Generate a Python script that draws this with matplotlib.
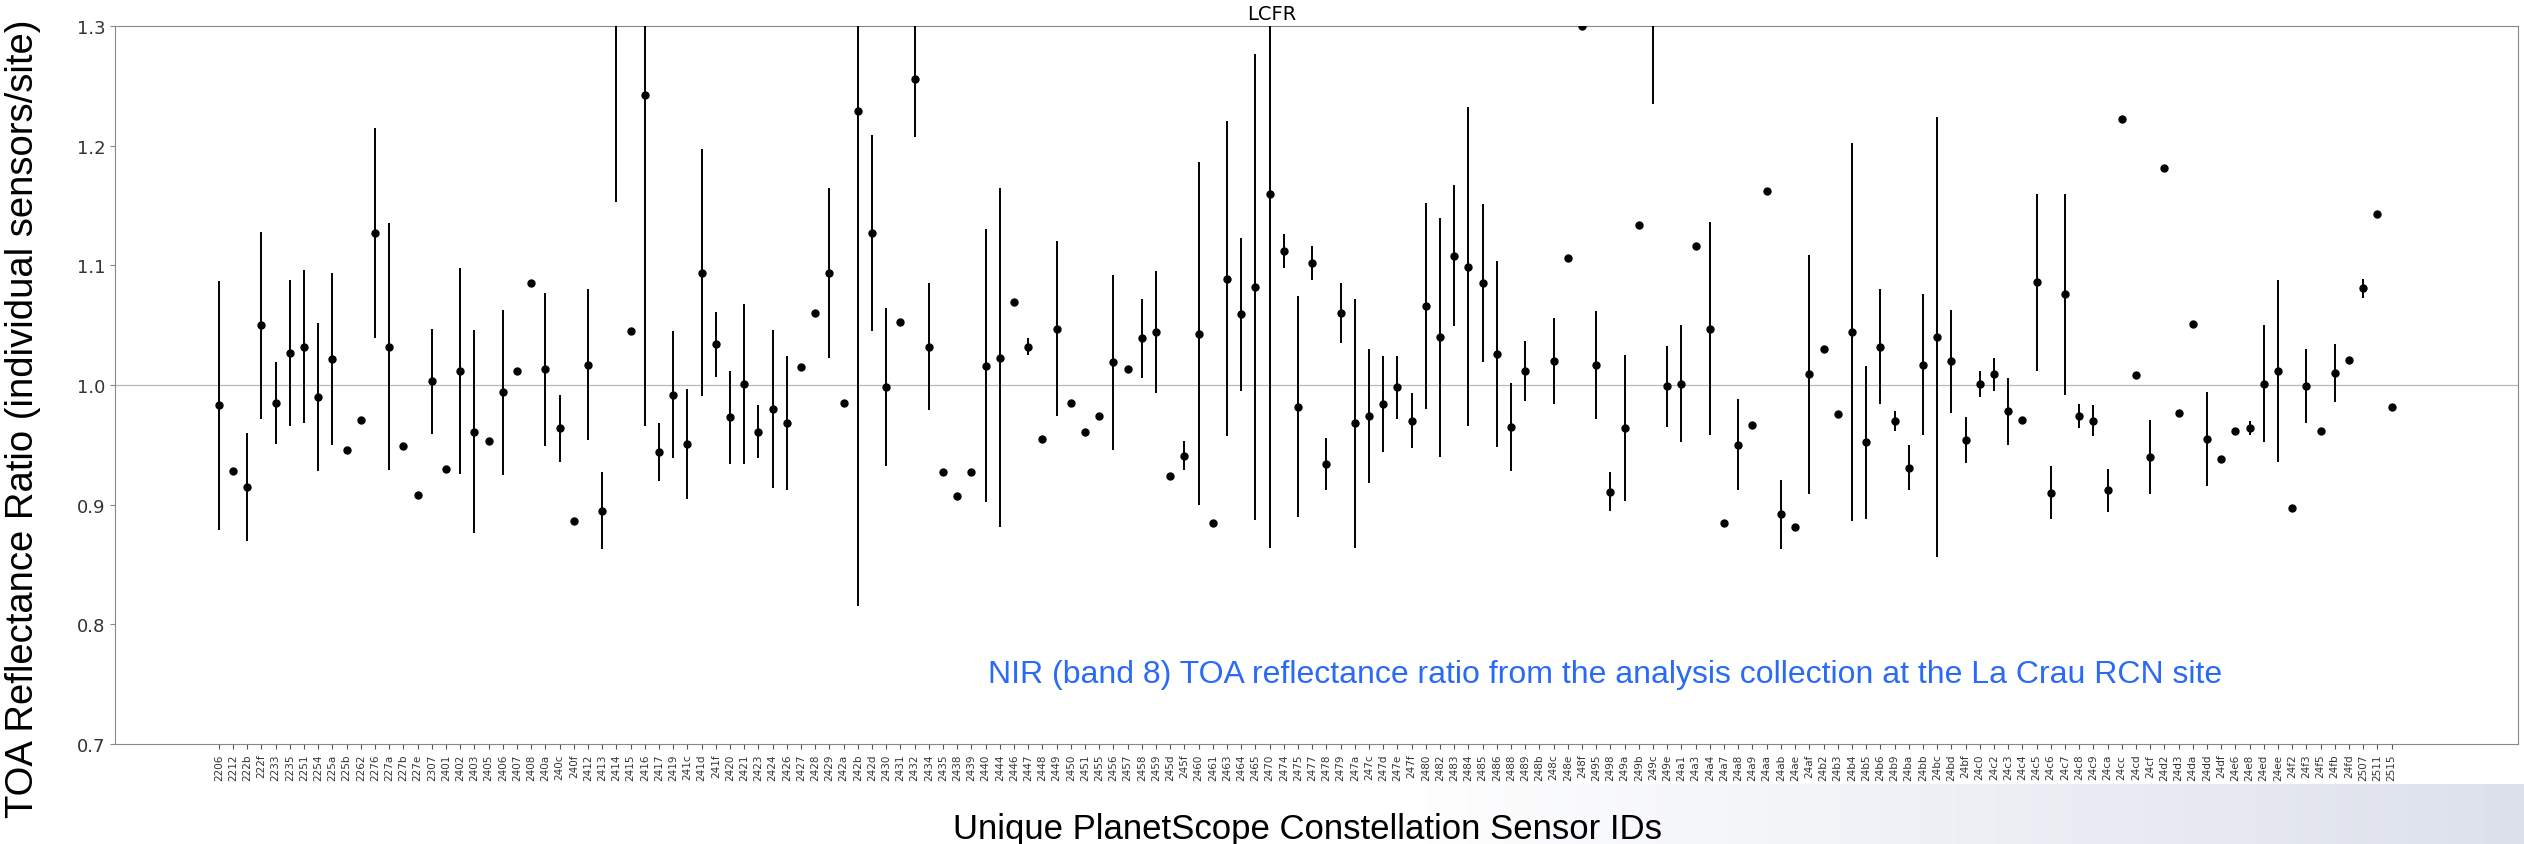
import matplotlib.pyplot as plt
import matplotlib.colors as mcolors
import numpy as np

# sensor IDs along x
sensor_ids = [
    "2206", "2212", "222b", "222f", "2233", "2235", "2251", "2254", "225a", "225b",
    "2262", "2276", "227a", "227b", "227e", "2307", "2401", "2402", "2403", "2405",
    "2406", "2407", "2408", "240a", "240c", "240f", "2412", "2413", "2414", "2415",
    "2416", "2417", "2419", "241c", "241d", "241f", "2420", "2421", "2423", "2424",
    "2426", "2427", "2428", "2429", "242a", "242b", "242d", "2430", "2431", "2432",
    "2434", "2435", "2438", "2439", "2440", "2444", "2446", "2447", "2448", "2449",
    "2450", "2451", "2455", "2456", "2457", "2458", "2459", "245d", "245f", "2460",
    "2461", "2463", "2464", "2465", "2470", "2474", "2475", "2477", "2478", "2479",
    "247a", "247c", "247d", "247e", "247f", "2480", "2482", "2483", "2484", "2485",
    "2486", "2488", "2489", "248b", "248c", "248e", "248f", "2495", "2498", "249a",
    "249b", "249c", "249e", "24a1", "24a3", "24a4", "24a7", "24a8", "24a9", "24aa",
    "24ab", "24ae", "24af", "24b2", "24b3", "24b4", "24b5", "24b6", "24b9", "24ba",
    "24bb", "24bc", "24bd", "24bf", "24c0", "24c2", "24c3", "24c4", "24c5", "24c6",
    "24c7", "24c8", "24c9", "24ca", "24cc", "24cd", "24cf", "24d2", "24d3", "24da",
    "24dd", "24df", "24e6", "24e8", "24ed", "24ee", "24f2", "24f3", "24f5", "24fb",
    "24fd", "2507", "2511", "2515",
]

nan = float("nan")

# mean TOA reflectance ratio per sensor (nan = no value)
ratio = [
    0.983, 0.928, 0.915, 1.050, 0.985, 1.027, 1.032, 0.990, 1.022, 0.946,
    0.971, 1.127, 1.032, 0.949, 0.908, 1.003, 0.930, 1.012, 0.961, 0.953,
    0.994, 1.012, 1.085, 1.013, 0.964, 0.886, 1.017, 0.895, 1.400, 1.045,
    1.242, 0.944, 0.992, 0.951, 1.094, 1.034, 0.973, 1.001, 0.961, 0.980,
    0.968, 1.015, 1.060, 1.094, 0.985, 1.229, 1.127, 0.998, 1.053, 1.256,
    1.032, 0.927, 0.907, 0.927, 1.016, 1.023, 1.069, 1.032, 0.955, 1.047,
    0.985, 0.961, 0.974, 1.019, 1.013, 1.039, 1.044, 0.924, 0.941, 1.043,
    0.885, 1.089, 1.059, 1.082, 1.160, 1.112, 0.982, 1.102, 0.934, 1.060,
    0.968, 0.974, 0.984, 0.998, 0.970, 1.066, 1.040, 1.108, 1.099, 1.085,
    1.026, 0.965, 1.012, nan, 1.020, 1.106, 1.300, 1.017, 0.911, 0.964,
    1.134, 1.450, 0.999, 1.001, 1.116, 1.047, 0.885, 0.950, 0.967, 1.162,
    0.892, 0.881, 1.009, 1.030, 0.976, 1.044, 0.952, 1.032, 0.970, 0.931,
    1.017, 1.040, 1.020, 0.954, 1.001, 1.009, 0.978, 0.971, 1.086, 0.910,
    1.076, 0.974, 0.970, 0.912, 1.222, 1.008, 0.940, 1.181, 0.977, 1.051,
    0.955, 0.938, 0.962, 0.964, 1.001, 1.012, 0.897, 0.999, 0.962, 1.010,
    1.021, 1.081, 1.143, 0.982,
]

# half-length of the error bar (0 = single acquisition)
ratio_err = [
    0.104, 0.000, 0.045, 0.078, 0.034, 0.061, 0.064, 0.062, 0.072, 0.000,
    0.000, 0.088, 0.103, 0.000, 0.000, 0.044, 0.000, 0.086, 0.085, 0.000,
    0.069, 0.000, 0.000, 0.064, 0.028, 0.000, 0.063, 0.032, 0.247, 0.000,
    0.276, 0.024, 0.053, 0.046, 0.103, 0.027, 0.039, 0.067, 0.022, 0.066,
    0.056, 0.000, 0.000, 0.071, 0.000, 0.414, 0.082, 0.066, 0.000, 0.049,
    0.053, 0.000, 0.000, 0.000, 0.114, 0.142, 0.000, 0.007, 0.000, 0.073,
    0.000, 0.000, 0.000, 0.073, 0.000, 0.033, 0.051, 0.000, 0.012, 0.143,
    0.000, 0.132, 0.064, 0.195, 0.296, 0.014, 0.092, 0.014, 0.022, 0.025,
    0.104, 0.056, 0.040, 0.026, 0.023, 0.086, 0.100, 0.059, 0.133, 0.066,
    0.078, 0.037, 0.025, 0.000, 0.036, 0.000, 0.000, 0.045, 0.016, 0.061,
    0.000, 0.215, 0.034, 0.049, 0.000, 0.089, 0.000, 0.038, 0.000, 0.000,
    0.029, 0.000, 0.100, 0.000, 0.000, 0.158, 0.064, 0.048, 0.008, 0.019,
    0.059, 0.184, 0.043, 0.019, 0.011, 0.014, 0.028, 0.000, 0.074, 0.022,
    0.084, 0.010, 0.013, 0.018, 0.000, 0.000, 0.031, 0.000, 0.000, 0.000,
    0.039, 0.000, 0.000, 0.006, 0.049, 0.076, 0.000, 0.031, 0.000, 0.024,
    0.000, 0.008, 0.000, 0.000,
]

fig = plt.figure(figsize=(25.24, 8.45), dpi=100)

# faint slide-background gradient in the bottom right corner
grad_ax = fig.add_axes([0.55, 0.0, 0.45, 0.071], zorder=0)
grad = np.linspace(0, 1, 256).reshape(1, -1)
bg_cmap = mcolors.LinearSegmentedColormap.from_list("bg", ["#ffffff", "#dde1ec"])
grad_ax.imshow(grad, aspect="auto", cmap=bg_cmap, extent=[0, 1, 0, 1])
grad_ax.axis("off")

ax = fig.add_axes([0.0456, 0.1183, 0.952, 0.8497], zorder=1)
ax.patch.set_alpha(0)

x = np.arange(len(sensor_ids))
ax.axhline(1.0, color="#b8b8b8", lw=0.9, zorder=1)
ax.errorbar(x, ratio, yerr=ratio_err, fmt="o", color="black", ms=5,
            elinewidth=1.4, capsize=0, zorder=3)

ax.set_ylim(0.7, 1.3)
ax.set_xlim(-7.3, len(sensor_ids) - 1 + 8.9)
ax.set_xticks(x)
ax.set_xticklabels(sensor_ids, rotation=90, fontsize=7.5, color="#333333")
ax.set_yticks([0.7, 0.8, 0.9, 1.0, 1.1, 1.2, 1.3])
ax.tick_params(axis="y", labelsize=13, labelcolor="#333333", color="#888888")
ax.tick_params(axis="x", color="#555555", length=3.5)
for s in ax.spines.values():
    s.set_color("#888888")

fig.text(0.504, 0.983, "LCFR", ha="center", va="center", fontsize=14)
ax.text(0.62, 0.098,
        "NIR (band 8) TOA reflectance ratio from the analysis collection at the La Crau RCN site",
        transform=ax.transAxes, ha="center", va="center", fontsize=23,
        color="#2a6af5", family="Liberation Sans")

fig.text(0.518, 0.018, "Unique PlanetScope Constellation Sensor IDs", ha="center", va="center",
         fontsize=25, family="Liberation Sans")
fig.text(0.009, 0.505, "TOA Reflectance Ratio (individual sensors/site)", ha="center", va="center",
         rotation=90, fontsize=27.5, family="Liberation Sans")

fig.savefig("out.png", dpi=100)
